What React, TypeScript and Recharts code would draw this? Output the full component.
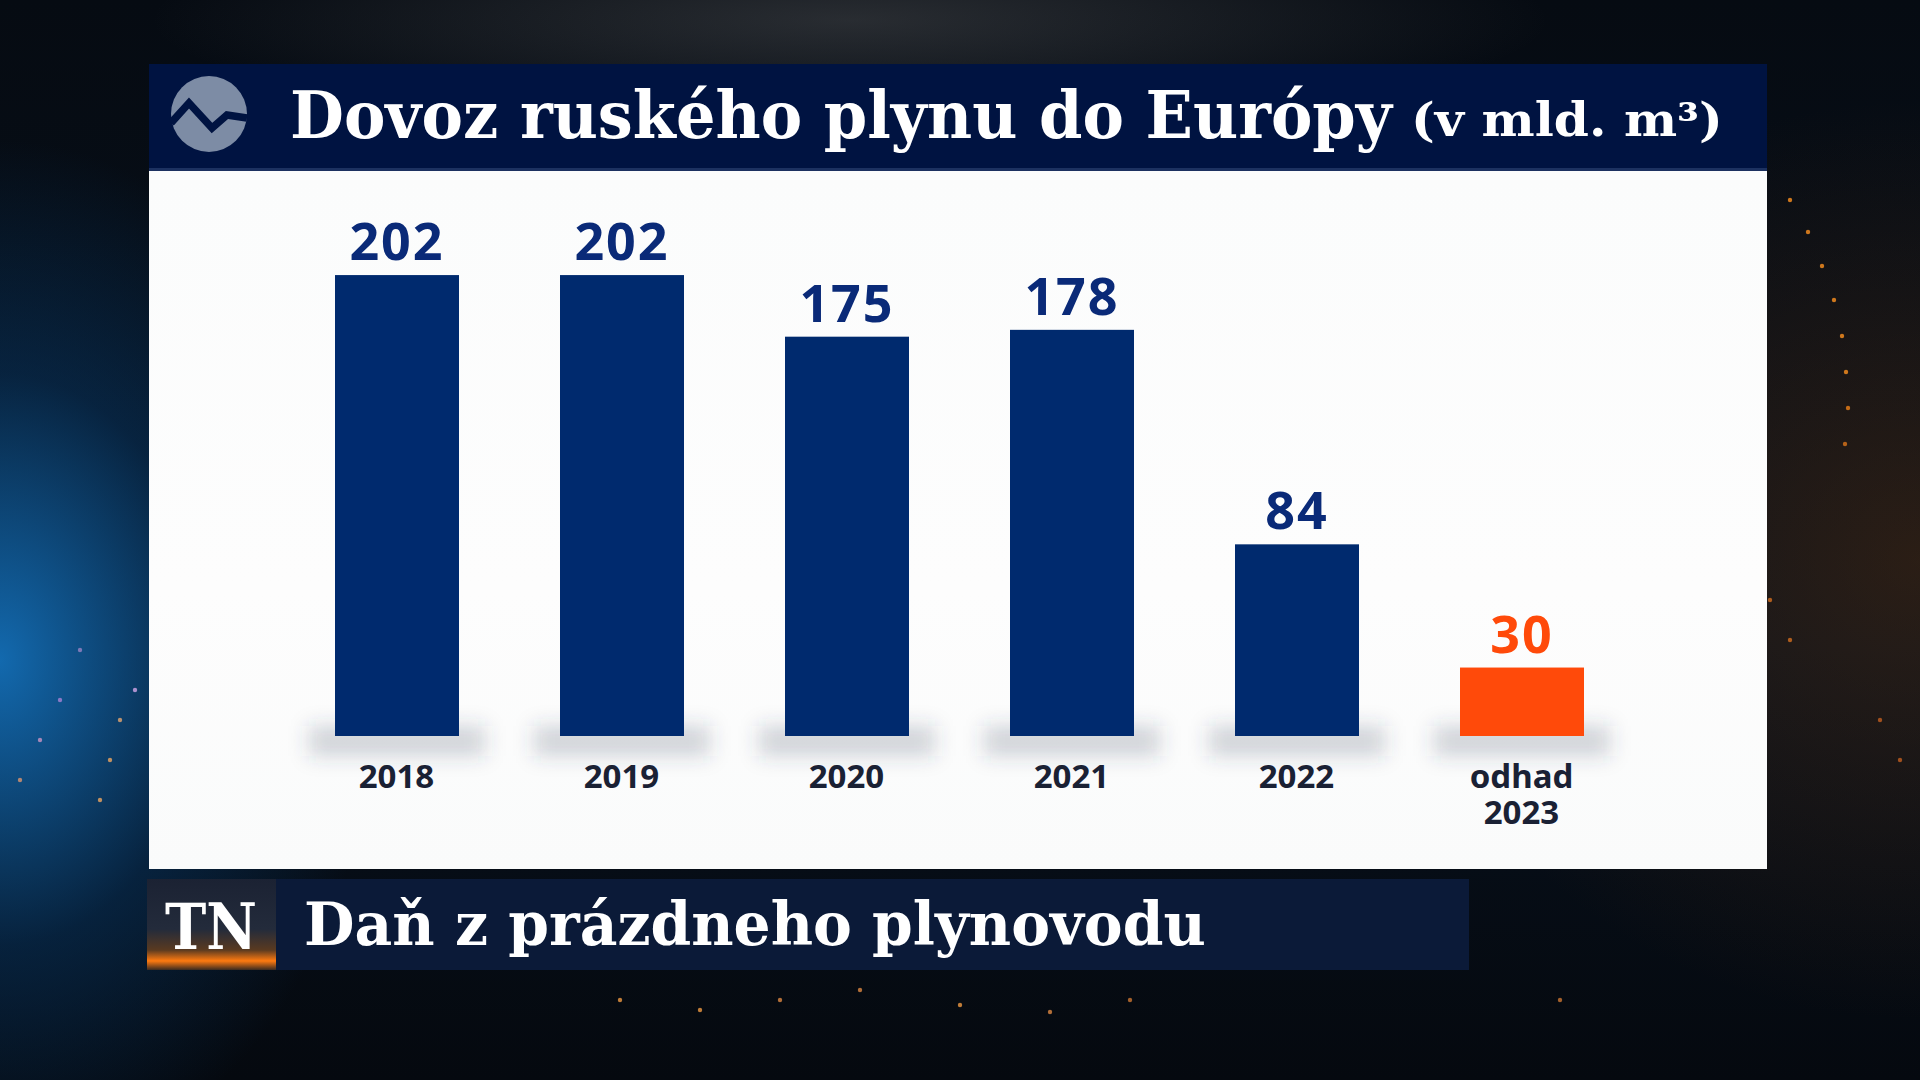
import { useLayoutEffect, useRef, useState } from 'react'
import { BarChart, Bar, XAxis, YAxis, Cell, LabelList } from 'recharts'

// Dovoz ruského plynu do Európy, v mld. m³
const categories = ['2018', '2019', '2020', '2021', '2022', 'odhad\n2023']
const imports = [202, 202, 175, 178, 84, 30]
const estimated = [false, false, false, false, false, true]

const NAVY = '#002a6e'
const ORANGE = '#ff4a0a'
const LABEL_NAVY = '#0a2a78'
const HEADER = '#001341'
const NUM_FONT = '"Noto Sans", "Open Sans", sans-serif'
const SLAB_FONT = '"DejaVu Serif", "Liberation Serif", serif'

const chartData = categories.map((name, i) => ({
  name,
  value: imports[i],
  estimate: estimated[i],
}))

// squeezes a text horizontally so that it fills the given width
function FitText({ x, y, width, size, anchor = 'start', children }: any) {
  const ref = useRef<SVGTextElement>(null)
  const [sx, setSx] = useState(1)
  useLayoutEffect(() => {
    if (!ref.current) return
    const w = ref.current.getComputedTextLength()
    if (w > 0) setSx(width / w)
  }, [width])
  return (
    <g transform={`translate(${x},${y}) scale(${sx},1)`}>
      <text
        ref={ref}
        x={0}
        y={0}
        textAnchor={anchor}
        style={{ fontFamily: SLAB_FONT, fontSize: size, fontWeight: 700, fill: '#ffffff' }}
      >
        {children}
      </text>
    </g>
  )
}

function BarWithShadow(props: any) {
  const { x, y, width, height, fill } = props
  const bottom = y + height
  return (
    <g>
      <rect
        x={x - 26}
        y={bottom - 10}
        width={width + 52}
        height={30}
        fill="rgba(60,70,90,0.22)"
        filter="url(#barShadow)"
      />
      <rect x={x} y={y} width={width} height={height} fill={fill} />
    </g>
  )
}

function ValueLabel(props: any) {
  const { x, y, width, value, index } = props
  return (
    <text
      x={x + width / 2}
      y={y - 15}
      textAnchor="middle"
      style={{
        fontFamily: NUM_FONT,
        fontSize: 52,
        fontWeight: 700,
        letterSpacing: 2,
        fill: estimated[index] ? ORANGE : LABEL_NAVY,
      }}
    >
      {value}
    </text>
  )
}

function YearTick(props: any) {
  const { x, y, payload } = props
  const lines = String(payload.value).split('\n')
  return (
    <text
      x={x}
      y={y}
      textAnchor="middle"
      style={{ fontFamily: NUM_FONT, fontSize: 33, fontWeight: 700, fill: '#1a2134' }}
    >
      {lines.map((line, i) => (
        <tspan key={i} x={x} dy={i === 0 ? 52 : 36}>
          {line}
        </tspan>
      ))}
    </text>
  )
}

function Logo() {
  return (
    <svg width={80} height={80} viewBox="-40 -40 80 80" style={{ position: 'absolute', left: 169, top: 74 }}>
      <circle cx={0} cy={0} r={38} fill="#7d8ca5" />
      <polyline
        points="-38,9 -20,-11 3,14 18,1 38,4"
        fill="none"
        stroke={HEADER}
        strokeWidth={7.5}
      />
    </svg>
  )
}

// a few glowing specks of the studio background
const specks = [
  [1790, 200, '#f08a1e'], [1808, 232, '#f08a1e'], [1822, 266, '#f08a1e'], [1834, 300, '#f08a1e'],
  [1842, 336, '#f08a1e'], [1846, 372, '#f08a1e'], [1848, 408, '#e07a18'], [1845, 444, '#d0701a'],
  [1770, 600, '#c86a20'], [1790, 640, '#c86a20'], [1880, 720, '#b85a20'], [1900, 760, '#b85a20'],
  [135, 690, '#c9a0e0'], [120, 720, '#d8a070'], [110, 760, '#e0a060'], [100, 800, '#e0a060'],
  [60, 700, '#a080d0'], [40, 740, '#c090c0'], [20, 780, '#d09070'], [80, 650, '#9080c0'],
  [620, 1000, '#e09040'], [700, 1010, '#e09040'], [780, 1000, '#d08040'], [860, 990, '#d08040'],
  [960, 1005, '#e09040'], [1050, 1012, '#d08040'], [1130, 1000, '#c07030'], [1560, 1000, '#c07030'],
]

export default function App() {
  return (
    <div
      style={{
        position: 'absolute',
        left: 0,
        top: 0,
        width: 1920,
        height: 1080,
        overflow: 'hidden',
        background:
          'radial-gradient(ellipse 380px 520px at 0px 660px, rgba(20,115,190,0.9), rgba(8,60,110,0.45) 55%, rgba(0,0,0,0) 100%),' +
          'radial-gradient(ellipse 520px 460px at 1920px 560px, rgba(110,55,10,0.35), rgba(0,0,0,0) 100%),' +
          'radial-gradient(ellipse 700px 110px at 850px 20px, rgba(130,130,130,0.28), rgba(0,0,0,0) 100%),' +
          'linear-gradient(180deg, #060b12 0%, #07111d 60%, #05090f 100%)',
      }}
    >
      <svg width={1920} height={1080} style={{ position: 'absolute', left: 0, top: 0 }}>
        <defs>
          <filter id="barShadow" x="-50%" y="-200%" width="200%" height="500%">
            <feGaussianBlur stdDeviation="10" />
          </filter>
        </defs>
        {specks.map(([cx, cy, c], i) => (
          <circle key={i} cx={cx as number} cy={cy as number} r={2.2} fill={c as string} opacity={0.85} />
        ))}
      </svg>

      {/* header */}
      <div
        style={{
          position: 'absolute',
          left: 149,
          top: 64,
          width: 1618,
          height: 107,
          background: HEADER,
          borderBottom: '3px solid #1c3160',
          boxSizing: 'border-box',
        }}
      />
      <Logo />
      <svg width={1618} height={107} style={{ position: 'absolute', left: 149, top: 64 }}>
        <FitText x={141} y={74} width={1102} size={66}>
          Dovoz ruského plynu do Európy
        </FitText>
        <FitText x={1262} y={72} width={312} size={46}>
          (v mld. m³)
        </FitText>
      </svg>

      {/* white panel */}
      <div
        style={{
          position: 'absolute',
          left: 149,
          top: 171,
          width: 1618,
          height: 698,
          background: 'linear-gradient(180deg, #fbfcfc 0%, #fdfdfd 60%, #fafbfb 100%)',
        }}
      />

      <div style={{ position: 'absolute', left: 284, top: 174 }}>
        <BarChart
          width={1350}
          height={662}
          data={chartData}
          margin={{ top: 60, right: 0, bottom: 0, left: 0 }}
          barSize={124}
        >
          <YAxis hide domain={[0, 220]} />
          <XAxis
            dataKey="name"
            height={100}
            interval={0}
            axisLine={false}
            tickLine={false}
            tickSize={0}
            tickMargin={0}
            tick={<YearTick />}
          />
          <Bar dataKey="value" isAnimationActive={false} shape={<BarWithShadow />}>
            {chartData.map((d, i) => (
              <Cell key={i} fill={d.estimate ? ORANGE : NAVY} />
            ))}
            <LabelList dataKey="value" content={ValueLabel} />
          </Bar>
        </BarChart>
      </div>

      {/* lower third */}
      <div
        style={{
          position: 'absolute',
          left: 147,
          top: 879,
          width: 129,
          height: 91,
          background:
            'linear-gradient(180deg, #1b2233 0%, #232b3b 55%, #5a3a20 78%, #ff7a10 90%, #3a2a20 100%)',
        }}
      />
      <svg width={129} height={91} style={{ position: 'absolute', left: 147, top: 879 }}>
        <FitText x={64} y={70} width={92} size={64} anchor="middle">
          TN
        </FitText>
      </svg>
      <div
        style={{
          position: 'absolute',
          left: 276,
          top: 879,
          width: 1193,
          height: 91,
          background: '#0b1a38',
        }}
      />
      <svg width={1193} height={91} style={{ position: 'absolute', left: 276, top: 879 }}>
        <FitText x={28} y={66} width={902} size={60}>
          Daň z prázdneho plynovodu
        </FitText>
      </svg>
    </div>
  )
}
